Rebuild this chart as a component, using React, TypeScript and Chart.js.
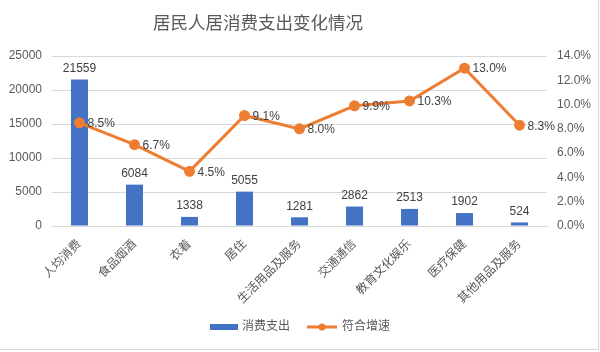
import React, { useEffect, useRef } from "react";
import { Chart, registerables } from "chart.js";

Chart.register(...registerables);

const categories = ["人均消费", "食品烟酒", "衣着", "居住", "生活用品及服务", "交通通信", "教育文化娱乐", "医疗保健", "其他用品及服务"];
const spending = [21559, 6084, 1338, 5055, 1281, 2862, 2513, 1902, 524];
const growth = [8.5, 6.7, 4.5, 9.1, 8.0, 9.9, 10.3, 13.0, 8.3];
const seriesNames = ["消费支出", "符合增速"];
const titleText = "居民人居消费支出变化情况";

const FONT = "'Liberation Sans', 'Noto Sans CJK SC', sans-serif";
const BLUE = "#4472C4";
const ORANGE = "#ED7D31";
const TEXT = "#595959";

const labelPlugin = {
  id: "labelsAndLegend",
  afterDatasetsDraw(chart: any) {
    const ctx = chart.ctx;
    ctx.save();
    // title
    ctx.font = `17.5px ${FONT}`;
    ctx.fillStyle = TEXT;
    ctx.textAlign = "center";
    ctx.textBaseline = "middle";
    ctx.fillText(titleText, 258, 24);

    ctx.font = `12px ${FONT}`;
    ctx.fillStyle = "#404040";
    const barMeta = chart.getDatasetMeta(0);
    barMeta.data.forEach((el: any, i: number) => {
      ctx.textAlign = "center";
      ctx.textBaseline = "bottom";
      ctx.fillText(String(spending[i]), el.x, el.y - 5);
    });
    const lineMeta = chart.getDatasetMeta(1);
    lineMeta.data.forEach((el: any, i: number) => {
      ctx.textAlign = "left";
      ctx.textBaseline = "middle";
      ctx.fillText(growth[i].toFixed(1) + "%", el.x + 8, el.y + 1);
    });
    // legend
    const cy = 327;
    ctx.font = `12px ${FONT}`;
    ctx.textBaseline = "middle";
    ctx.textAlign = "left";
    const x0 = 210;
    ctx.fillStyle = BLUE;
    ctx.fillRect(x0, cy - 3, 28, 6);
    ctx.fillStyle = TEXT;
    ctx.fillText(seriesNames[0], x0 + 32, cy);
    const x1 = 307;
    ctx.strokeStyle = ORANGE;
    ctx.lineWidth = 3;
    ctx.beginPath();
    ctx.moveTo(x1, cy);
    ctx.lineTo(x1 + 30, cy);
    ctx.stroke();
    ctx.fillStyle = ORANGE;
    ctx.beginPath();
    ctx.arc(x1 + 15, cy, 3.5, 0, Math.PI * 2);
    ctx.fill();
    ctx.fillStyle = TEXT;
    ctx.fillText(seriesNames[1], x1 + 35, cy);
    ctx.restore();
  },
};

export default function App() {
  const ref = useRef<HTMLCanvasElement>(null);
  useEffect(() => {
    document.body.style.margin = "0";
    const chart = new Chart(ref.current!, {
      type: "bar",
      data: {
        labels: categories,
        datasets: [
          {
            type: "bar",
            label: seriesNames[0],
            data: spending,
            backgroundColor: BLUE,
            yAxisID: "y",
            categoryPercentage: 1,
            barPercentage: 0.31,
            order: 2,
          },
          {
            type: "line",
            label: seriesNames[1],
            data: growth,
            borderColor: ORANGE,
            backgroundColor: ORANGE,
            borderWidth: 3,
            pointRadius: 4,
            pointBackgroundColor: ORANGE,
            pointBorderColor: ORANGE,
            yAxisID: "y1",
            order: 1,
          } as any,
        ],
      },
      options: {
        responsive: false,
        animation: false,
        layout: { padding: { left: 0, right: 2, top: 56, bottom: 40 } },
        plugins: {
          legend: { display: false },
          tooltip: { enabled: false },
          title: { display: false },
        },
        scales: {
          x: {
            grid: { display: false },
            border: { display: true, color: "#d9d9d9" },
            ticks: {
              color: TEXT,
              font: { family: FONT, size: 12 },
              minRotation: 45,
              maxRotation: 45,
              autoSkip: false,
            },
            afterFit: (s: any) => {
              s.height = 83;
            },
          },
          y: {
            position: "left",
            min: 0,
            max: 25000,
            ticks: {
              stepSize: 5000,
              color: TEXT,
              font: { family: FONT, size: 12 },
              padding: 10,
              callback: (v: any) => String(v),
            },
            grid: { color: "#d9d9d9", drawTicks: false },
            border: { display: false },
            afterFit: (s: any) => {
              s.width = 52;
            },
          },
          y1: {
            position: "right",
            min: 0,
            max: 14,
            ticks: {
              stepSize: 2,
              color: TEXT,
              font: { family: FONT, size: 12 },
              padding: 10,
              callback: (v: any) => Number(v).toFixed(1) + "%",
            },
            grid: { display: false, drawTicks: false },
            border: { display: false },
            afterFit: (s: any) => {
              s.width = 49;
            },
          },
        },
      },
      plugins: [labelPlugin],
    });
    return () => chart.destroy();
  }, []);
  return (
    <div
      style={{
        width: 598,
        height: 349,
        borderRight: "1px solid #d9d9d9",
        borderBottom: "1px solid #d9d9d9",
        background: "#fff",
      }}
    >
      <canvas ref={ref} width={598} height={349} style={{ display: "block" }} />
    </div>
  );
}
